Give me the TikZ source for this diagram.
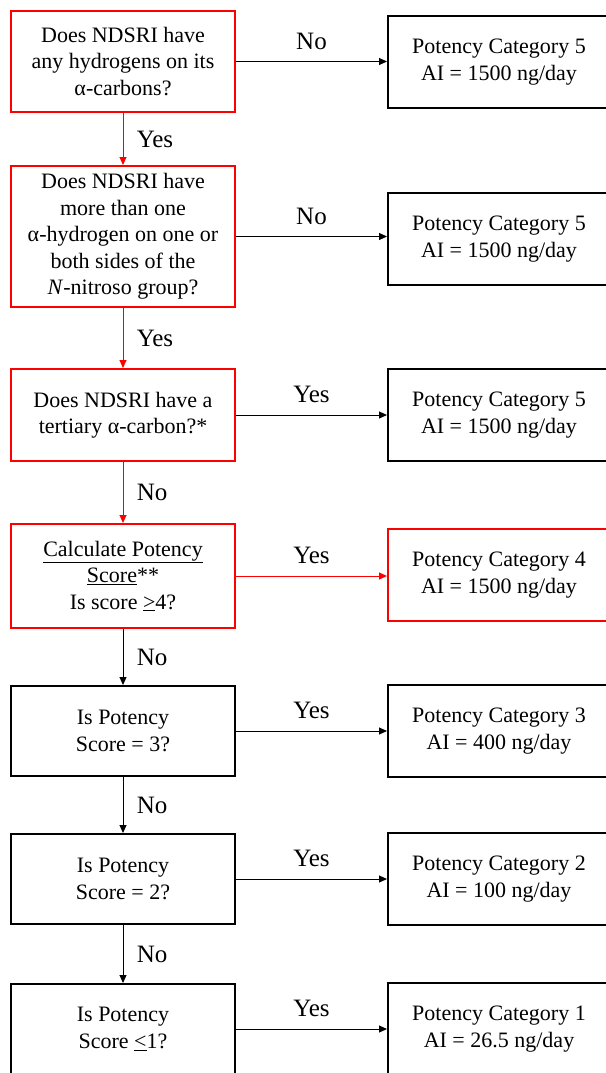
\documentclass[tikz,border=0pt]{standalone}
\usepackage{fontspec}
\setmainfont{Liberation Serif}
\usetikzlibrary{arrows.meta}
\begin{document}
\begin{tikzpicture}[x=1pt, y=-1pt,
    qbox/.style={draw=black, line width=2pt, minimum width=224pt, align=center,
        font=\fontsize{22}{26.5}\selectfont},
    qred/.style={qbox, draw=red},
    abox/.style={qbox, minimum width=222pt, minimum height=92pt},
    ared/.style={abox, draw=red},
    arr/.style={-{Triangle[length=8pt,width=7pt]}, line width=1pt},
    arrred/.style={arr, draw=red},
    lbl/.style={font=\fontsize{25}{30}\selectfont}]
    \useasboundingbox (0,0) rectangle (605,1073);
    % questions
    \node[qred, minimum height=101pt] (q1) at (123,61.5) {Does NDSRI have\\any hydrogens on its\\α-carbons?};
    \node[qred, minimum height=141pt] (q2) at (123,236.5) {Does NDSRI have\\more than one\\α-hydrogen on one or\\both sides of the\\\textit{N}-nitroso group?};
    \node[qred, minimum height=92pt] (q3) at (123,415) {Does NDSRI have a\\tertiary α-carbon?*};
    \node[qred, minimum height=104pt] (q4) at (123,576) {\underline{Calculate Potency}\\\underline{Score}**\\Is score \underline{>}4?};
    \node[qbox, minimum height=90pt] (q5) at (123,731) {Is Potency\\Score = 3?};
    \node[qbox, minimum height=90pt] (q6) at (123,879) {Is Potency\\Score = 2?};
    \node[qbox, minimum height=90pt] (q7) at (123,1029) {Is Potency\\Score \underline{<}1?};
    % categories
    \node[abox] (r1) at (499,62) {Potency Category 5\\AI = 1500 ng/day};
    \node[abox] (r2) at (499,239) {Potency Category 5\\AI = 1500 ng/day};
    \node[abox] (r3) at (499,415) {Potency Category 5\\AI = 1500 ng/day};
    \node[ared] (r4) at (499,575) {Potency Category 4\\AI = 1500 ng/day};
    \node[abox] (r5) at (499,731) {Potency Category 3\\AI = 400 ng/day};
    \node[abox] (r6) at (499,879) {Potency Category 2\\AI = 100 ng/day};
    \node[abox] (r7) at (499,1029) {Potency Category 1\\AI = 26.5 ng/day};
    % down
    \draw[arrred] (q1) -- node[lbl, right=10pt] {Yes} (q2);
    \draw[arrred] (q2) -- node[lbl, right=10pt] {Yes} (q3);
    \draw[arrred] (q3) -- node[lbl, right=10pt] {No} (q4);
    \draw[arr] (q4) -- node[lbl, right=10pt] {No} (q5);
    \draw[arr] (q5) -- node[lbl, right=10pt] {No} (q6);
    \draw[arr] (q6) -- node[lbl, right=10pt] {No} (q7);
    % across
    \draw[arr] (q1.east) -- node[lbl, above=8pt] {No} (q1.east -| r1.west);
    \draw[arr] (q2.east) -- node[lbl, above=8pt] {No} (q2.east -| r2.west);
    \draw[arr] (q3.east) -- node[lbl, above=8pt] {Yes} (q3.east -| r3.west);
    \draw[arrred] (q4.east) -- node[lbl, above=8pt, black] {Yes} (q4.east -| r4.west);
    \draw[arr] (q5.east) -- node[lbl, above=8pt] {Yes} (q5.east -| r5.west);
    \draw[arr] (q6.east) -- node[lbl, above=8pt] {Yes} (q6.east -| r6.west);
    \draw[arr] (q7.east) -- node[lbl, above=8pt] {Yes} (q7.east -| r7.west);
\end{tikzpicture}
\end{document}
